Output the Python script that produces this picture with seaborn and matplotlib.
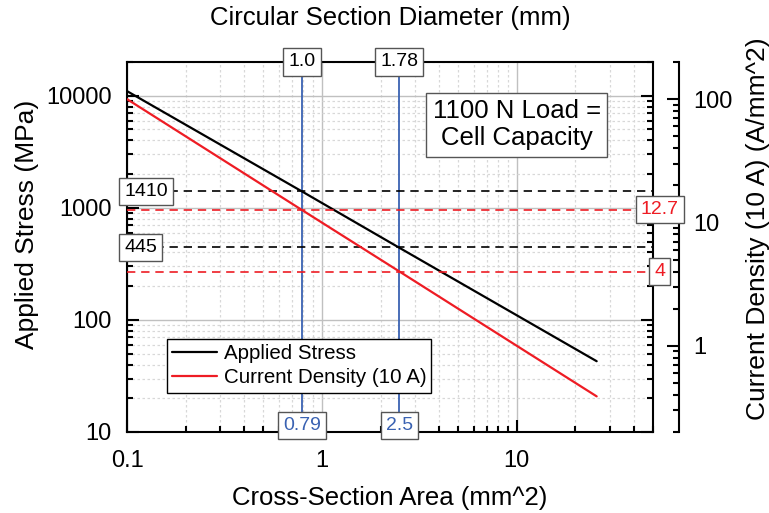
import matplotlib
matplotlib.use("Agg")
import matplotlib.pyplot as plt
import seaborn as sns
import pandas as pd
from matplotlib.ticker import LogLocator, NullFormatter, FuncFormatter

# Cross-section area (mm^2) and the two derived quantities
area = [0.1, 0.785, 2.47, 25.7]
stress = [11000, 1410, 445, 42.8]          # MPa, 1100 N load
current = [100, 12.7, 4.05, 0.389]         # A/mm^2 at 10 A

# Reference cross-sections and their wire diameters
ref_area = [0.79, 2.5]
ref_area_labels = ["0.79", "2.5"]
ref_diam_labels = ["1.0", "1.78"]
ref_stress = [1410, 445]
ref_stress_labels = ["1410", "445"]
ref_current = [12.7, 4]
ref_current_labels = ["12.7", "4"]

df = pd.DataFrame({"area": area, "stress": stress, "current": current})

sns.set_theme(style="ticks")
plt.rcParams["font.family"] = ["Liberation Sans", "DejaVu Sans"]
plt.rcParams.update({
    "axes.linewidth": 1.5,
    "text.color": "black",
    "axes.labelcolor": "black",
    "xtick.color": "black",
    "ytick.color": "black",
})

W, H = 769, 513
fig = plt.figure(figsize=(W / 100, H / 100), dpi=100)
ax = fig.add_axes([127 / W, 1 - 432 / H, 526 / W, 370 / H])
ax2 = ax.twinx()

RED = "#EE1C24"
BLUE = "#3A62B2"
BOXEDGE = "#555555"

sns.lineplot(data=df, x="area", y="stress", ax=ax, color="black", lw=1.6,
             legend=False, zorder=5)
sns.lineplot(data=df, x="area", y="current", ax=ax2, color=RED, lw=1.6,
             legend=False, zorder=5)

for a in (ax, ax2):
    a.set_xscale("log")
    a.set_yscale("log")
ax.set_xlim(0.1, 50)
ax.set_ylim(10, 20000)
ax2.set_ylim(0.2, 200)

fmt = FuncFormatter(lambda v, _: f"{v:g}")
ax.xaxis.set_major_formatter(fmt)
ax.yaxis.set_major_formatter(fmt)
ax2.yaxis.set_major_formatter(fmt)
for axis in (ax.xaxis, ax.yaxis, ax2.yaxis):
    axis.set_minor_locator(LogLocator(base=10, subs=range(2, 10), numticks=20))
    axis.set_minor_formatter(NullFormatter())

# grid
ax.grid(which="major", color="#c0c0c0", lw=1.0, ls="-", zorder=0)
ax.grid(which="minor", color="#d8d8d8", lw=0.9, ls=(0, (2, 2)), zorder=0)
ax.set_axisbelow(True)

# ticks
ax.tick_params(which="both", direction="in", left=True, right=True, top=False,
               bottom=True, labelright=False, labelsize=17, width=1.5,
               colors="black")
ax.tick_params(axis="x", which="both", pad=13)
ax.tick_params(axis="y", which="both", pad=11)
ax.tick_params(which="major", length=8.5)
ax.tick_params(which="minor", length=4.3)
ax2.tick_params(which="both", direction="in", left=False, right=True,
                labelsize=17, width=1.5, pad=10, colors="black")
ax2.tick_params(which="major", length=8.5)
ax2.tick_params(which="minor", length=4.3)
ax2.spines["right"].set_position(("outward", 26 * 0.72))
for s in ("top", "bottom", "left"):
    ax2.spines[s].set_visible(False)
for s in ax.spines.values():
    s.set_color("black")
ax2.spines["right"].set_color("black")
ax2.spines["right"].set_linewidth(1.5)

# labels
ax.set_xlabel("Cross-Section Area (mm^2)", fontsize=18.5)
ax.xaxis.set_label_coords(0.5, -0.145)
ax.set_ylabel("Applied Stress (MPa)", fontsize=19)
ax.yaxis.set_label_coords(-0.168, 0.56)
ax2.set_ylabel("Current Density (10 A) (A/mm^2)", fontsize=19)
ax2.yaxis.set_label_coords(1.177, 0.55)
ax.text(0.5, 1.119, "Circular Section Diameter (mm)", transform=ax.transAxes,
        ha="center", va="center", fontsize=18.5)

box = dict(boxstyle="square,pad=0.26", fc="white", ec=BOXEDGE, lw=1.0)

# reference cross-sections (blue verticals)
for a, lab_a, lab_d in zip(ref_area, ref_area_labels, ref_diam_labels):
    ax.axvline(a, color=BLUE, lw=1.3, zorder=3)
    ax2.annotate(lab_d, xy=(a, 1.0), xycoords=ax.get_xaxis_transform(),
                 ha="center", va="center", fontsize=14, color="black",
                 bbox=box, zorder=10, annotation_clip=False)
    ax2.annotate(lab_a, xy=(a, 0.018), xycoords=ax.get_xaxis_transform(),
                 ha="center", va="center", fontsize=14, color=BLUE,
                 bbox=box, zorder=10, annotation_clip=False)

# stress levels (black dashed)
for v, lab in zip(ref_stress, ref_stress_labels):
    ax.axhline(v, color="black", lw=1.2, ls=(0, (5, 3.5)), zorder=4)
    ax2.annotate(lab, xy=(-0.005, v), xycoords=ax.get_yaxis_transform(),
                 ha="left", va="center", fontsize=14, color="black",
                 bbox=box, zorder=10, annotation_clip=False)

# current-density levels (red dashed)
for v, lab in zip(ref_current, ref_current_labels):
    ax2.axhline(v, color=RED, lw=1.2, ls=(0, (5, 3.5)), zorder=4)
    ax2.annotate(lab, xy=(1.013, v), xycoords=ax2.get_yaxis_transform(),
                 ha="center", va="center", fontsize=14, color=RED,
                 bbox=box, zorder=10, annotation_clip=False)

# note
ax2.text(0.741, 0.830, "1100 N Load =\nCell Capacity", transform=ax.transAxes,
         ha="center", va="center", fontsize=18.5, linespacing=1.15,
         color="black",
         bbox=dict(boxstyle="square,pad=0.25", fc="white", ec=BOXEDGE, lw=1.0),
         zorder=10)

# legend
handles = [ax.lines[0], ax2.lines[0]]
leg = ax2.legend(handles, ["Applied Stress", "Current Density (10 A)"],
                 loc="upper left", bbox_to_anchor=(0.076, 0.251),
                 borderaxespad=0, fontsize=14.8, frameon=True, fancybox=False,
                 framealpha=1, edgecolor="black", handlelength=2.2,
                 handletextpad=0.3, borderpad=0.25, labelspacing=0.25)
leg.get_frame().set_linewidth(1.0)
for t in leg.get_texts():
    t.set_color("black")
leg.set_zorder(12)

fig.savefig("out.png", dpi=100)
